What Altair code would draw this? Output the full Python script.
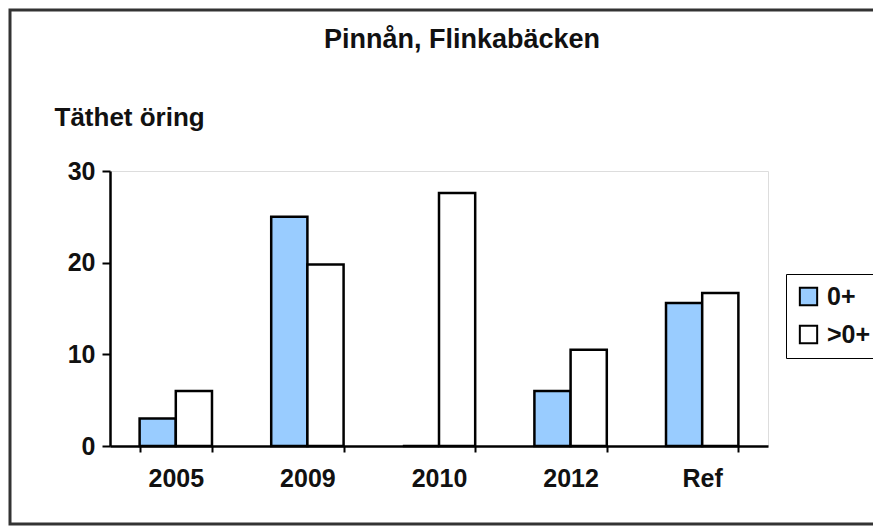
import altair as alt
import pandas as pd

title_text = "Pinnån, Flinkabäcken"
categories = ["2005", "2009", "2010", "2012", "Ref"]
age_0 = [3, 25, 0, 6, 15.6]
age_older = [6, 19.8, 27.6, 10.5, 16.7]
series_names = ["0+", ">0+"]

rows = []
for c, a, b in zip(categories, age_0, age_older):
    rows.append({"cat": c, "grupp": series_names[0], "v": a})
    rows.append({"cat": c, "grupp": series_names[1], "v": b})
df = pd.DataFrame(rows)

W, H = 658, 275
FONT = "Liberation Sans"

bars = alt.Chart(df).mark_bar(stroke="black", strokeWidth=2.5).encode(
    x=alt.X("cat:N", sort=categories,
            scale=alt.Scale(paddingInner=0.45, paddingOuter=0.225),
            axis=alt.Axis(title=None, labelAngle=0, labelFontSize=25, labelFontWeight="bold",
                          labelFont=FONT, labelColor="#111111", labelPadding=14,
                          tickBand="extent", tickSize=6, tickColor="black", tickWidth=2,
                          domainColor="black", domainWidth=2.5)),
    xOffset=alt.XOffset("grupp:N", sort=series_names),
    y=alt.Y("v:Q", scale=alt.Scale(domain=[0, 30], nice=False),
            axis=alt.Axis(values=[0, 10, 20, 30], title="Täthet öring", titleAngle=0,
                          titleX=-56, titleY=-54, titleAlign="left", titleBaseline="middle",
                          titleFontSize=26, titleFont=FONT, titleFontWeight="bold", titleColor="#111111",
                          labelFontSize=25, labelFontWeight="bold", labelFont=FONT, labelColor="#111111",
                          labelPadding=7, tickSize=8, tickColor="black", tickWidth=2,
                          domainColor="black", domainWidth=2.5, grid=False)),
    color=alt.Color("grupp:N", sort=series_names,
                    scale=alt.Scale(domain=series_names, range=["#99CCFF", "#FFFFFF"]),
                    legend=alt.Legend(title=None, orient="none", legendX=676, legendY=103,
                                      labelFontSize=25, labelFontWeight="bold", labelFont=FONT,
                                      labelColor="#111111", symbolType="square", symbolSize=300,
                                      symbolStrokeColor="black", symbolStrokeWidth=2,
                                      strokeColor="black", padding=10, rowPadding=11,
                                      fillColor="white", labelOffset=6)),
)

frame = alt.Chart(alt.Data(values=[{}])).mark_rect(
    fill=None, stroke="#333333", strokeWidth=3, clip=False
).encode(
    x=alt.value(-100), x2=alt.value(800), y=alt.value(-161), y2=alt.value(353)
)

title = alt.Chart(alt.Data(values=[{"t": title_text}])).mark_text(
    font=FONT, fontSize=27, fontWeight="bold", color="#111111",
    align="center", baseline="alphabetic", clip=False
).encode(
    text="t:N", x=alt.value(352), y=alt.value(-123)
)

chart = alt.layer(frame, title, bars).properties(
    width=W, height=H,
    autosize=alt.AutoSizeParams(type="none"),
    padding={"left": 102, "top": 163, "right": 105, "bottom": 80},
).configure_view(stroke="#999999", strokeWidth=2).configure(background="white")

chart.save("out.html", embed_options={"renderer": "svg", "actions": False})
